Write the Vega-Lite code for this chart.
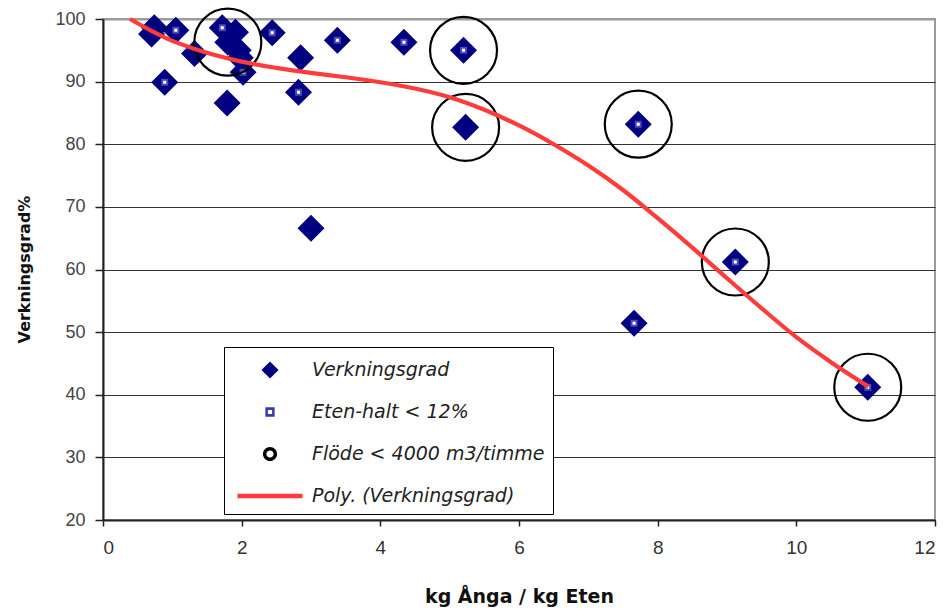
{
  "$schema": "https://vega.github.io/schema/vega-lite/v6.json",
  "width": 832,
  "height": 501,
  "autosize": "none",
  "padding": {"left": 103, "top": 19, "right": 10, "bottom": 92},
  "background": "white",
  "config": {
    "view": {"stroke": "#9a9a9a", "strokeWidth": 2},
    "legend": {
      "orient": "none",
      "legendX": 121,
      "legendY": 328,
      "direction": "vertical",
      "columns": 1,
      "symbolSize": 900,
      "symbolStrokeWidth": 0,
      "symbolOffset": 23,
      "labelOffset": 27,
      "labelFont": "DejaVu Sans",
      "labelFontStyle": "italic",
      "labelFontSize": 19,
      "labelColor": "#222222",
      "labelLimit": 400,
      "rowPadding": 17,
      "padding": 8,
      "fillColor": "white",
      "strokeColor": "black"
    }
  },
  "datasets": {
    "points": [
      {"x": 0.74, "y": 98.6, "eten": 0, "flode": 0},
      {"x": 0.70, "y": 97.6, "eten": 0, "flode": 0},
      {"x": 1.05, "y": 98.2, "eten": 1, "flode": 0},
      {"x": 0.89, "y": 89.9, "eten": 1, "flode": 0},
      {"x": 1.32, "y": 94.5, "eten": 0, "flode": 0},
      {"x": 1.72, "y": 98.6, "eten": 1, "flode": 0},
      {"x": 1.91, "y": 97.9, "eten": 0, "flode": 0},
      {"x": 1.80, "y": 96.3, "eten": 0, "flode": 1},
      {"x": 1.95, "y": 95.0, "eten": 0, "flode": 0},
      {"x": 1.98, "y": 93.8, "eten": 0, "flode": 0},
      {"x": 2.02, "y": 91.5, "eten": 1, "flode": 0},
      {"x": 1.79, "y": 86.6, "eten": 0, "flode": 0},
      {"x": 2.44, "y": 97.8, "eten": 1, "flode": 0},
      {"x": 2.85, "y": 93.8, "eten": 0, "flode": 0},
      {"x": 2.82, "y": 88.3, "eten": 1, "flode": 0},
      {"x": 3.00, "y": 66.6, "eten": 0, "flode": 0},
      {"x": 3.38, "y": 96.6, "eten": 1, "flode": 0},
      {"x": 4.34, "y": 96.3, "eten": 1, "flode": 0},
      {"x": 5.20, "y": 95.0, "eten": 1, "flode": 1},
      {"x": 5.23, "y": 82.7, "eten": 0, "flode": 1},
      {"x": 7.72, "y": 83.2, "eten": 1, "flode": 1},
      {"x": 7.66, "y": 51.4, "eten": 1, "flode": 0},
      {"x": 9.12, "y": 61.2, "eten": 1, "flode": 1},
      {"x": 11.03, "y": 41.2, "eten": 1, "flode": 1}
    ],
    "trend": [
      {"x": 0.39, "y": 100.0},
      {"x": 0.7, "y": 98.1},
      {"x": 1.0, "y": 96.5},
      {"x": 1.3, "y": 95.3},
      {"x": 1.6, "y": 94.3},
      {"x": 2.0, "y": 93.2},
      {"x": 2.5, "y": 92.2},
      {"x": 3.0, "y": 91.4},
      {"x": 3.5, "y": 90.7},
      {"x": 4.0, "y": 89.9},
      {"x": 4.5, "y": 88.9},
      {"x": 5.0, "y": 87.5},
      {"x": 5.5, "y": 85.5},
      {"x": 6.0, "y": 83.0},
      {"x": 6.5, "y": 80.0},
      {"x": 7.0, "y": 76.6},
      {"x": 7.5, "y": 72.7},
      {"x": 8.0, "y": 68.2},
      {"x": 8.5, "y": 63.5},
      {"x": 9.0, "y": 58.6},
      {"x": 9.5, "y": 53.8},
      {"x": 10.0, "y": 49.2},
      {"x": 10.5, "y": 45.2},
      {"x": 11.04, "y": 41.3}
    ],
    "series": [
      {"s": "Verkningsgrad"},
      {"s": "Eten-halt < 12%"},
      {"s": "Flöde < 4000 m3/timme"},
      {"s": "Poly. (Verkningsgrad)"}
    ]
  },
  "encoding": {
    "x": {
      "field": "x",
      "type": "quantitative",
      "scale": {"domain": [0, 12], "nice": false, "zero": false},
      "axis": {
        "values": [0, 2, 4, 6, 8, 10, 12],
        "grid": false,
        "domainColor": "#222222",
        "domainWidth": 2,
        "tickColor": "#222222",
        "tickWidth": 1.5,
        "tickSize": 6,
        "labelPadding": 12,
        "labelFont": "Liberation Sans",
        "labelFontSize": 19,
        "labelColor": "#333333",
        "title": "kg Ånga / kg Eten",
        "titleFont": "DejaVu Sans",
        "titleFontSize": 19,
        "titleFontWeight": "bold",
        "titleColor": "#111111",
        "titleX": 416,
        "titleY": 76,
        "titleBaseline": "middle"
      }
    },
    "y": {
      "field": "y",
      "type": "quantitative",
      "scale": {"domain": [20, 100], "nice": false, "zero": false},
      "axis": {
        "values": [20, 30, 40, 50, 60, 70, 80, 90, 100],
        "grid": true,
        "gridColor": {"condition": {"test": "datum.value === 100", "value": "#9a9a9a"}, "value": "#333333"},
        "gridWidth": {"condition": {"test": "datum.value === 100", "value": 2}, "value": 1.2},
        "domainColor": "#222222",
        "domainWidth": 2,
        "tickColor": "#222222",
        "tickWidth": 1.5,
        "tickSize": 8,
        "labelPadding": 10,
        "labelFont": "Liberation Sans",
        "labelFontSize": 18,
        "labelColor": "#444444",
        "title": "Verkningsgrad%",
        "titleFont": "DejaVu Sans",
        "titleFontSize": 16,
        "titleFontWeight": "bold",
        "titleColor": "#111111",
        "titleAngle": 270,
        "titleX": -79,
        "titleY": 250,
        "titleBaseline": "middle"
      }
    }
  },
  "layer": [
    {
      "data": {"name": "points"},
      "mark": {"type": "point", "shape": "diamond", "filled": true, "size": 729, "color": "#000080", "opacity": 1}
    },
    {
      "data": {"name": "points"},
      "transform": [{"filter": "datum.eten == 1"}],
      "mark": {"type": "point", "shape": "square", "filled": false, "size": 25, "fill": "white", "stroke": "#4a4ab4", "strokeWidth": 2, "opacity": 1}
    },
    {
      "data": {"name": "points"},
      "transform": [{"filter": "datum.flode == 1"}],
      "mark": {"type": "point", "shape": "circle", "filled": false, "size": 4489, "stroke": "#000000", "strokeWidth": 2.2, "opacity": 1}
    },
    {
      "data": {"name": "trend"},
      "mark": {"type": "line", "color": "#ff3b3b", "strokeWidth": 4.2, "interpolate": "monotone"}
    },
    {
      "data": {"name": "series"},
      "transform": [{"filter": "false"}],
      "mark": {"type": "point", "filled": true, "size": 900, "opacity": 1},
      "encoding": {
        "x": {"value": 0},
        "y": {"value": 0},
        "fill": {
          "field": "s",
          "type": "nominal",
          "scale": {
            "domain": ["Verkningsgrad", "Eten-halt < 12%", "Flöde < 4000 m3/timme", "Poly. (Verkningsgrad)"],
            "range": ["#000080", "#3b3ba8", "#000000", "#ff3b3b"]
          },
          "legend": {"title": null}
        },
        "shape": {
          "field": "s",
          "type": "nominal",
          "scale": {
            "domain": ["Verkningsgrad", "Eten-halt < 12%", "Flöde < 4000 m3/timme", "Poly. (Verkningsgrad)"],
            "range": [
              "M-0.57,0L0,-0.57L0.57,0L0,0.57Z",
              "M-0.31,-0.31H0.31V0.31H-0.31ZM-0.14,-0.14V0.14H0.14V-0.14Z",
              "M0.47,0A0.47,0.47,0,1,1,-0.47,0A0.47,0.47,0,1,1,0.47,0ZM0.24,0A0.24,0.24,0,1,0,-0.24,0A0.24,0.24,0,1,0,0.24,0Z",
              "M-2.17,-0.15H2.17V0.15H-2.17Z"
            ]
          },
          "legend": {"title": null}
        }
      }
    }
  ]
}
